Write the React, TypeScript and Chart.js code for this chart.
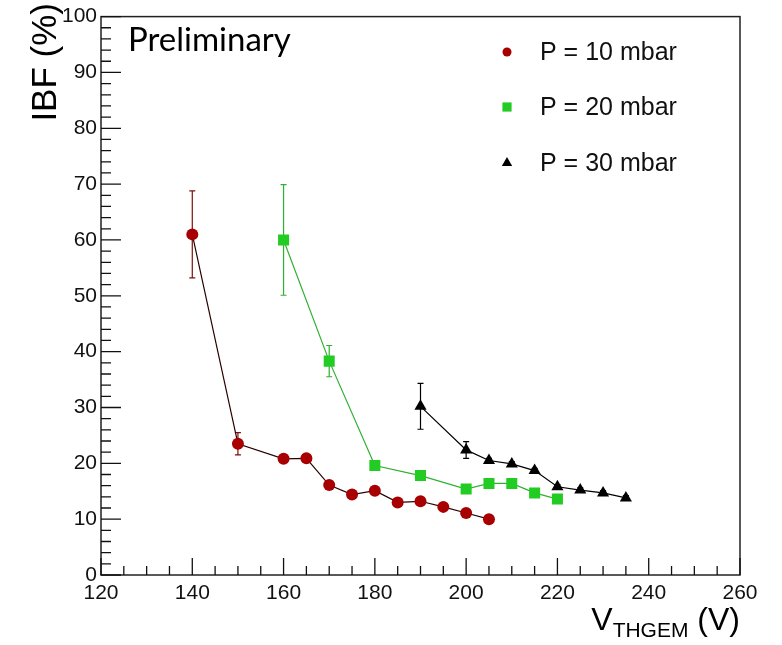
import React, { useEffect, useRef } from "react";
import { Chart, registerables } from "chart.js";

Chart.register(...registerables);

// ---- data ----
const xTickValues = [120, 140, 160, 180, 200, 220, 240, 260];
const yTickValues = [0, 10, 20, 30, 40, 50, 60, 70, 80, 90, 100];

const labels = ["P = 10 mbar", "P = 20 mbar", "P = 30 mbar"];

const p10X = [140, 150, 160, 165, 170, 175, 180, 185, 190, 195, 200, 205];
const p10Y = [61.0, 23.5, 20.8, 20.9, 16.1, 14.4, 15.1, 13.0, 13.2, 12.2, 11.1, 10.0];
const p10Err = [7.8, 2.0, 0.4, 0.4, 0.4, 0.4, 0.4, 0.4, 0.4, 0.4, 0.4, 0.4];

const p20X = [160, 170, 180, 190, 200, 205, 210, 215, 220];
const p20Y = [60.0, 38.3, 19.6, 17.8, 15.4, 16.4, 16.4, 14.7, 13.6];
const p20Err = [9.9, 2.8, 0.4, 0.4, 0.4, 0.4, 0.4, 0.4, 0.4];

const p30X = [190, 200, 205, 210, 215, 220, 225, 230, 235];
const p30Y = [30.2, 22.4, 20.5, 19.9, 18.7, 15.8, 15.2, 14.7, 13.8];
const p30Err = [4.1, 1.5, 0.4, 0.4, 0.4, 0.4, 0.4, 0.4, 0.4];

const seriesErrors = [p10Err, p20Err, p30Err];

const RED = "#a80000";
const GREEN = "#22cc22";
const BLACK = "#000000";

const toPoints = (xs: number[], ys: number[]) => xs.map((x, i) => ({ x, y: ys[i] }));

const FONT = "'Liberation Sans', Arial, Helvetica, sans-serif";

function drawMarker(ctx: CanvasRenderingContext2D, style: string, x: number, y: number, r: number, color: string) {
  ctx.save();
  ctx.fillStyle = color;
  ctx.beginPath();
  if (style === "circle") {
    ctx.arc(x, y, r, 0, Math.PI * 2);
  } else if (style === "rect") {
    const s = r * Math.SQRT1_2;
    ctx.rect(x - s, y - s, 2 * s, 2 * s);
  } else {
    ctx.moveTo(x, y - r);
    ctx.lineTo(x + r * 0.866, y + r * 0.5);
    ctx.lineTo(x - r * 0.866, y + r * 0.5);
    ctx.closePath();
  }
  ctx.fill();
  ctx.restore();
}

const rootPlugin = {
  id: "rootStyle",
  beforeDatasetsDraw(chart: any) {
    const ctx: CanvasRenderingContext2D = chart.ctx;
    const xs = chart.scales.x;
    const ys = chart.scales.y;
    chart.data.datasets.forEach((ds: any, di: number) => {
      const errs = seriesErrors[di];
      ctx.save();
      ctx.strokeStyle = ds.errColor;
      ctx.lineWidth = 1.2;
      ds.data.forEach((p: any, i: number) => {
        const e = errs[i];
        const px = xs.getPixelForValue(p.x);
        const top = ys.getPixelForValue(p.y + e);
        const bot = ys.getPixelForValue(p.y - e);
        ctx.beginPath();
        ctx.moveTo(px, top);
        ctx.lineTo(px, bot);
        ctx.moveTo(px - 3, top);
        ctx.lineTo(px + 3, top);
        ctx.moveTo(px - 3, bot);
        ctx.lineTo(px + 3, bot);
        ctx.stroke();
      });
      ctx.restore();
    });
  },
  afterDraw(chart: any) {
    const ctx: CanvasRenderingContext2D = chart.ctx;
    const a = chart.chartArea;
    const xs = chart.scales.x;
    const ys = chart.scales.y;
    ctx.save();
    // frame
    ctx.strokeStyle = "#222";
    ctx.lineWidth = 1.5;
    ctx.strokeRect(a.left, a.top, a.right - a.left, a.bottom - a.top);
    // ticks (inward, ROOT style)
    ctx.lineWidth = 1.3;
    ctx.strokeStyle = "#111";
    ctx.beginPath();
    for (let v = 0; v <= 100; v += 2) {
      const py = ys.getPixelForValue(v);
      const len = v % 10 === 0 ? 20 : 10;
      ctx.moveTo(a.left, py);
      ctx.lineTo(a.left + len, py);
    }
    for (let v = 120; v <= 260; v += 5) {
      const px = xs.getPixelForValue(v);
      const len = v % 20 === 0 ? 17 : 9;
      ctx.moveTo(px, a.bottom);
      ctx.lineTo(px, a.bottom - len);
    }
    ctx.stroke();

    // y title
    ctx.fillStyle = "#000";
    ctx.save();
    ctx.translate(46, 0);
    ctx.rotate(-Math.PI / 2);
    ctx.font = `35px ${FONT}`;
    ctx.textAlign = "right";
    ctx.textBaseline = "middle";
    ctx.fillText("IBF (%)", -3, 0);
    ctx.restore();

    // x title with subscript
    ctx.textBaseline = "alphabetic";
    ctx.textAlign = "left";
    const big = `32px ${FONT}`;
    const small = `21px ${FONT}`;
    ctx.font = big;
    const wV = ctx.measureText("V").width;
    const wTail = ctx.measureText(" (V)").width;
    ctx.font = small;
    const wSub = ctx.measureText("THGEM").width;
    let x0 = a.right - (wV + wSub + wTail);
    ctx.font = big;
    ctx.fillText("V", x0, 630);
    ctx.font = small;
    ctx.fillText("THGEM", x0 + wV, 637);
    ctx.font = big;
    ctx.fillText(" (V)", x0 + wV + wSub, 630);

    // Preliminary
    ctx.font = `33px Lato, 'Open Sans', sans-serif`;
    ctx.fillText("Preliminary", 128, 51, 172);

    // legend
    const legY = [52, 107, 163];
    const legR = [4.5, 6.5, 6];
    chart.data.datasets.forEach((ds: any, i: number) => {
      drawMarker(ctx, ds.pointStyle, 507, legY[i], legR[i], ds.pointBackgroundColor);
      ctx.fillStyle = "#111";
      ctx.font = `25px ${FONT}`;
      ctx.textBaseline = "middle";
      ctx.fillText(ds.label, 540, legY[i] + 1);
    });
    ctx.restore();
  },
};

export default function App() {
  const ref = useRef<HTMLCanvasElement | null>(null);
  useEffect(() => {
    document.body.style.margin = "0";
    if (!ref.current) return;
    const chart = new Chart(ref.current, {
      type: "line",
      data: {
        datasets: [
          {
            label: labels[0],
            data: toPoints(p10X, p10Y),
            borderColor: "#2a0000",
            borderWidth: 1.2,
            pointStyle: "circle",
            pointRadius: 6,
            pointBackgroundColor: RED,
            pointBorderColor: RED,
            pointBorderWidth: 0,
            errColor: "#7a1010",
          } as any,
          {
            label: labels[1],
            data: toPoints(p20X, p20Y),
            borderColor: "#30b030",
            borderWidth: 1.2,
            pointStyle: "rect",
            pointRadius: 7.8,
            pointBackgroundColor: GREEN,
            pointBorderColor: GREEN,
            pointBorderWidth: 0,
            errColor: "#30b030",
          } as any,
          {
            label: labels[2],
            data: toPoints(p30X, p30Y),
            borderColor: BLACK,
            borderWidth: 1.2,
            pointStyle: "triangle",
            pointRadius: 7,
            pointBackgroundColor: BLACK,
            pointBorderColor: BLACK,
            pointBorderWidth: 0,
            errColor: BLACK,
          } as any,
        ],
      },
      options: {
        responsive: false,
        animation: false,
        layout: { padding: { left: 0, top: 16, right: 42, bottom: 0 } },
        plugins: {
          legend: { display: false },
          tooltip: { enabled: false },
        },
        scales: {
          x: {
            type: "linear",
            min: 120,
            max: 260,
            afterBuildTicks: (s: any) => {
              s.ticks = xTickValues.map((v) => ({ value: v }));
            },
            afterFit: (s: any) => {
              s.height = 70;
            },
            grid: { display: false, drawTicks: false },
            border: { display: false },
            ticks: {
              color: "#111",
              font: { family: FONT, size: 21 },
              padding: 6,
              maxRotation: 0,
              autoSkip: false,
            },
          },
          y: {
            type: "linear",
            min: 0,
            max: 100,
            afterBuildTicks: (s: any) => {
              s.ticks = yTickValues.map((v) => ({ value: v }));
            },
            afterFit: (s: any) => {
              s.width = 101;
            },
            grid: { display: false, drawTicks: false },
            border: { display: false },
            ticks: {
              color: "#111",
              font: { family: FONT, size: 21 },
              padding: 4,
              autoSkip: false,
            },
          },
        },
      },
      plugins: [rootPlugin],
    } as any);
    return () => chart.destroy();
  }, []);
  return (
    <div style={{ width: 782, height: 645, background: "#fff" }}>
      <canvas ref={ref} width={782} height={645} style={{ display: "block" }} />
    </div>
  );
}
